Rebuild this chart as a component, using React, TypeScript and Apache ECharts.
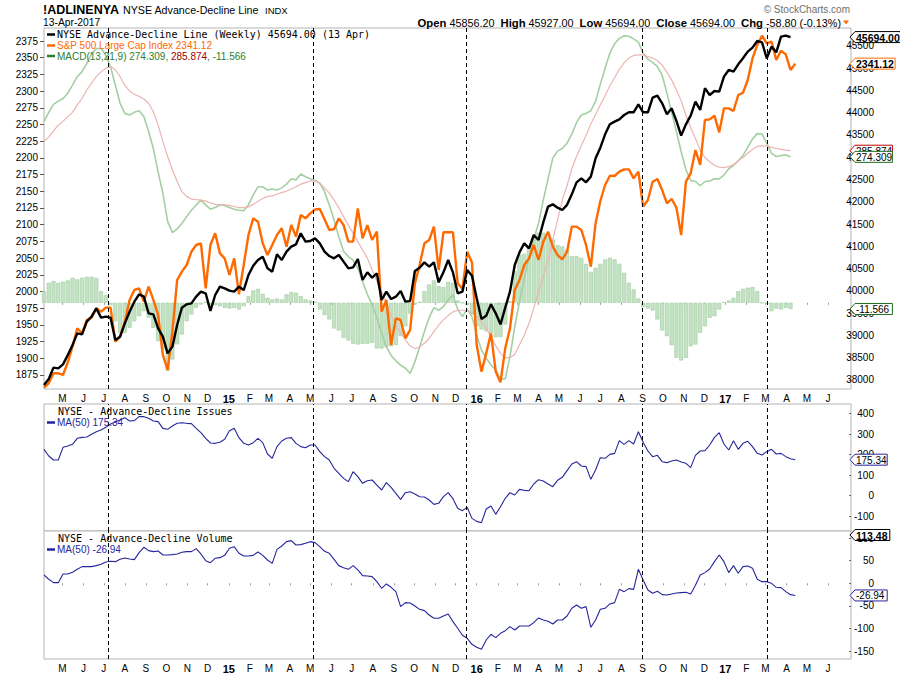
import React, { useEffect, useRef } from 'react';
import * as echarts from 'echarts';

// ---------- data (weekly, first week 2014-04-04) ----------
const firstWeek = '2014-04-04';

const adLine = [
  37888, 38022, 38277, 38262, 38351, 38561, 38785, 39047, 39025, 39309,
  39421, 39608, 39399, 39421, 39399, 38897, 38972, 39271, 39533, 39758,
  39922, 39870, 39496, 39473, 39159, 38972, 38598, 38748, 39234, 39623,
  39698, 39720, 39870, 39982, 39945, 39548, 39907, 40094, 40057, 40004,
  39982, 40094, 40019, 40356, 40565, 40693, 40767, 40506, 40431, 40820,
  40693, 40880, 40992, 41044, 41291, 41104, 41119, 41179, 41066, 40880,
  40782, 40730, 40805, 40655, 40506, 40528, 40715, 40244, 40416, 40296,
  40393, 39795, 39982, 39817, 39870, 39997, 39758, 39772, 40446, 40520,
  40640, 40543, 40640, 40191, 40416, 40693, 40416, 39945, 39982, 40468,
  40341, 39832, 39369, 39443, 39698, 39496, 39249, 39623, 39982, 40580,
  40865, 41067, 40954, 41254, 41141, 41538, 41889, 41942, 41867, 41815,
  41930, 42166, 42435, 42525, 42435, 42563, 42974, 43213, 43513, 43737,
  43797, 43849, 43946, 44006, 44006, 44186, 44006, 44006, 44335, 44380,
  44208, 43961, 44096, 43812, 43483, 43737, 43931, 44246, 44059, 44545,
  44395, 44485, 44470, 44807, 44956, 44919, 45083, 45218, 45368, 45457,
  45607, 45577, 45218, 45480, 45353, 45704, 45727, 45694.0,
];

const spx = [
  1856, 1862.5, 1877.5, 1877.5, 1875, 1894, 1917.4, 1944.9, 1937.4, 1957.3,
  1960.8, 1974.8, 1969.8, 1975.8, 1975.8, 1924.9, 1932.4, 1954.8, 1987.3, 2002.3,
  2004.8, 1984.8, 2007.2, 1987.3, 1964.8, 1904.9, 1882.5, 1939.9, 2017.2, 2029.7,
  2039.7, 2059.6, 2069.6, 2072.1, 2004.8, 2069.6, 2087.1, 2057.1, 2049.6, 2024.7,
  2049.6, 1995.8, 2039.7, 2084.6, 2109.5, 2104.5, 2072.1, 2054.6, 2069.6, 2084.6,
  2094.6, 2067.1, 2099.6, 2082.1, 2114.5, 2109.5, 2117.0, 2123.0, 2123.5, 2108.0,
  2092.1, 2093.6, 2109.5, 2099.5, 2074.6, 2074.6, 2124.5, 2079.6, 2099.5, 2077.1,
  2089.6, 1969.8, 1987.3, 1919.9, 1959.8, 1957.3, 1929.9, 1942.4, 2012.2, 2039.7,
  2072.1, 2077.1, 2097.1, 2032.2, 2088.6, 2088.6, 2088.6, 2012.2, 2003.7, 2059.6,
  2043.6, 1919.9, 1880.0, 1907.4, 1937.4, 1880.0, 1864.0, 1914.9, 1944.9, 2002.2,
  2017.2, 2039.7, 2049.6, 2069.6, 2047.2, 2074.6, 2089.6, 2067.1, 2054.6, 2048.0,
  2059.6, 2097.1, 2097.1, 2092.1, 2069.6, 2037.2, 2102.0, 2135.5, 2159.4, 2173.4,
  2172.9, 2179.4, 2182.9, 2182.9, 2169.4, 2179.4, 2127.0, 2137.0, 2164.4, 2168.4,
  2151.9, 2132.0, 2138.5, 2125.5, 2084.6, 2164.4, 2176.9, 2211.8, 2189.4, 2256.7,
  2257.7, 2263.2, 2238.3, 2274.2, 2274.2, 2270.2, 2294.2, 2297.6, 2316.6, 2349.0,
  2369.0, 2383.0, 2371.5, 2374.0, 2346.5, 2360.5, 2355.0, 2331.6, 2341.12,
];

const macdLine = [
  340.5, 358, 373, 379, 384, 394, 409, 425, 434.5, 450,
  468, 478, 478, 465, 444, 409, 375, 356, 353, 358,
  361, 350, 322, 290, 246, 206, 153, 132, 139, 149,
  162, 174, 184, 193, 184, 176, 179, 184, 183, 179,
  176, 174, 173, 184, 203, 218, 218, 212, 214, 212,
  216, 223, 233, 231, 242, 237, 233, 230, 225, 209,
  184, 156, 124, 97, 87, 80, 65, 40, 16, -3,
  -28, -57, -83, -99, -109, -117, -123, -133, -111, -83,
  -54, -28, -9, -14, -7, 5, 15, -12, -26, -12,
  -26, -61, -89, -104, -117, -126, -143, -143, -101, -45,
  2, 46, 85, 120, 149, 193, 233, 272, 285, 290,
  300, 317, 339, 353, 356, 361, 379, 411, 441, 469,
  487, 497, 502, 501, 496, 490, 469, 458, 452, 444,
  428, 394, 358, 322, 284, 250, 230, 228, 220, 228,
  229, 233, 233, 240, 252, 258, 267, 277, 292, 308,
  318, 317, 300, 281, 275, 277, 278, 274.309,
];

const macdSignal = [
  303, 312, 323, 334, 341, 350, 358, 372, 384, 400,
  413, 425, 434, 441, 444, 438, 425, 409, 398, 392,
  388, 383, 375, 359, 334, 303, 275, 250, 228, 209,
  200, 195, 194, 193, 191, 188, 185, 184, 184, 183,
  181, 179, 179, 180, 185, 191, 196, 200, 201, 204,
  207, 210, 214, 218, 223, 226, 229, 229, 225, 216,
  206, 193, 179, 162, 146, 131, 115, 99, 84, 62,
  41, 21, -1, -23, -42, -56, -70, -81, -86, -83,
  -76, -67, -54, -42, -32, -24, -17, -14, -14, -15,
  -18, -26, -36, -48, -64, -81, -95, -103, -103, -97,
  -79, -61, -39, -10, 21, 49, 80, 118, 156, 193,
  220, 252, 275, 295, 315, 336, 354, 372, 389, 408,
  423, 439, 451, 460, 465, 466, 466, 463, 460, 455,
  447, 433, 419, 400, 380, 353, 329, 309, 287, 273,
  265, 258, 255, 254, 256, 260, 267, 273, 281, 288,
  294, 295, 295, 292, 290, 288.5, 287, 285.874,
];

const macdHist = [
  22, 37.6, 40.7, 37.6, 39.5, 42, 47, 43.9, 47, 48.9,
  48.9, 47, 22, 14.4, -4.4, -34.5, -56.4, -56.4, -47, -34.5,
  -25, -15.7, -28.2, -47, -72, -87.7, -128, -106.5, -78, -59.5,
  -34.5, -22, -9.4, -3.1, 1.9, -6.3, -4.4, -6.3, -9.4, -10.7,
  -9.4, -12.5, -6.3, 12.5, 23.2, 26.3, 16.9, 9.4, 6.3, 8.1,
  6.3, 15.7, 20, 18.8, 12.5, 6.3, 4.4, 1.9, -12.5, -23.2,
  -31.3, -48.2, -52, -65.8, -70.8, -77.1, -78.3, -77.1, -77.1, -75.2,
  -85.8, -85.8, -83.3, -81.5, -79.6, -62.7, -43.9, -20.7, -3.1, 1.9,
  21.9, 34.5, 42, 31.3, 29.5, 39.5, 37.6, 4.4, 0, -4.4,
  -21.9, -43.9, -50.1, -53.3, -56.4, -64.5, -64.5, -40.7, 3.1, 59.5,
  90.9, 92.1, 106.5, 122.2, 131.6, 131.6, 123.4, 119, 108.4, 106,
  100, 87.7, 87.7, 84.6, 73.3, 58.3, 65.8, 73.3, 81.5, 84.6,
  81.5, 73.3, 56.4, 37.6, 25.1, 8.1, -8.1, -10.7, -14.4, -31.3,
  -52, -62.7, -79.6, -103.4, -108.4, -103.4, -81.5, -78.3, -56.4, -43.9,
  -28.2, -25.1, -12.5, 1.3, 4.4, 9.4, 21.9, 26.3, 28.2, 29.5,
  21.9, 0, -1.9, -15.7, -10.7, -12.5, -9.4, -11.566,
];

const adIssuesMA = [
  225.7, 193.2, 173.8, 173.8, 235.4, 241.9, 250, 279.3, 284.1, 285.7,
  298.7, 311.7, 319.8, 332.8, 349, 358.8, 368.5, 379.9, 363.7, 365.3,
  384.8, 384.8, 376.6, 363.7, 360.4, 327.9, 323.1, 339.3, 352.3, 355.5,
  352.3, 350.7, 327.9, 306.8, 279.3, 256.5, 254.9, 259.8, 274.4, 316.6,
  327.9, 282.5, 254.9, 246.8, 258.2, 279.3, 258.2, 203, 181.9, 238.7,
  266.3, 279.3, 282.5, 254.9, 238.7, 233.8, 246.8, 246.8, 214.3, 190,
  173.8, 133.2, 108.8, 84.5, 68.3, 117, 92.6, 60.2, 73.1, 76.4,
  52, 27.7, 63.4, 40.7, 11.5, -17.8, 14.7, 19.6, 8.2, -4.8,
  -6.4, -21, -42.1, -37.2, -4.8, 14.7, -14.5, -61.6, -72.9, -56.7,
  -110.3, -124.9, -131.4, -64.8, -50.2, -90.8, -53.5, -12.9, 14.7, 3.4,
  30.9, 26.1, 24.4, 56.9, 78, 71.5, 56.9, 43.9, 74.8, 89.4,
  121.8, 154.3, 165.6, 144.5, 141.3, 79.6, 125.1, 185.1, 181.9, 201.3,
  206.2, 267.9, 250, 267.9, 251.7, 311.7, 259.8, 217.6, 190, 196.5,
  165.6, 160.8, 168.9, 173.8, 164, 157.5, 136.4, 196.5, 217.6, 219.2,
  246.8, 284.1, 306.8, 251.7, 222.5, 267.9, 225.7, 254.9, 264.6, 238.7,
  206.2, 198.1, 214.3, 225.7, 203, 206.2, 190, 180, 175.34,
];

const adVolumeMA = [
  18.4, 8.8, 1.4, 1.4, 20.6, 20.6, 24.3, 30.9, 36.9, 36.9,
  36.9, 39.1, 42, 47.2, 48.7, 47.9, 53.1, 56.1, 53.8, 52.4,
  67.9, 79.7, 72.3, 70.1, 71.5, 62.7, 62.7, 63.4, 64.9, 68.6,
  70.1, 70.1, 76.7, 64.9, 50.1, 45.7, 55.3, 56.8, 61.9, 77.5,
  81.1, 66.4, 60.5, 60.5, 61.9, 69.3, 61.9, 51.6, 44.2, 75.2,
  82.6, 92.2, 94.4, 84.8, 85.6, 88.5, 92.2, 90, 81.1, 70.8,
  66.4, 53.1, 39.1, 34.6, 30.9, 39.1, 29.5, 16.9, 16.2, 14.7,
  3.6, -11.1, -1.5, -8.9, -18.5, -51.7, -42.9, -43.6, -50.3, -57.7,
  -60.6, -70.2, -77.6, -77.6, -72.4, -68, -85, -99.7, -115.2, -121.9,
  -135.2, -141.8, -146.2, -125.6, -113, -120.4, -110.8, -104.9, -96, -103.4,
  -94.6, -94.6, -94.6, -87.2, -76.8, -81.3, -84.2, -90.1, -81.3, -81.3,
  -72.4, -55.4, -48, -55.4, -51.7, -97.5, -81.3, -57.7, -55.4, -45.8,
  -42.9, -13.4, -18.5, -11.9, -13.4, 31, 7.3, -14.8, -22.2, -17.8,
  -25.2, -25.9, -23.7, -21.5, -20.7, -20, -23.7, -4.5, 18.4, 23.6,
  31.7, 47.9, 62.7, 47.9, 23.6, 39.1, 22.1, 36.9, 38.3, 33.2,
  8.8, 3.6, 3.6, -0.1, -8.9, -9.7, -18.5, -25.2, -26.94,
];
const adVolumeLast = 113.48;

const monthLabels = [
  'M', 'J', 'J', 'A', 'S', 'O', 'N', 'D',
  '15', 'F', 'M', 'A', 'M', 'J', 'J', 'A', 'S', 'O', 'N', 'D',
  '16', 'F', 'M', 'A', 'M', 'J', 'J', 'A', 'S', 'O', 'N', 'D',
  '17', 'F', 'M', 'A', 'M', 'J',
];
const markerDates = ['2014-07-07', '2015-05-05', '2015-12-16', '2016-09-01', '2017-03-04'];
const spxTicks = [1875, 1900, 1925, 1950, 1975, 2000, 2025, 2050, 2075, 2100, 2125, 2150, 2175, 2200, 2225, 2250, 2275, 2300, 2325, 2350, 2375];
const adTicks = [38000, 38500, 39000, 39500, 40000, 40500, 41000, 41500, 42000, 42500, 43000, 43500, 44000, 44500, 45000, 45500];
const issuesTicks = [-100, 0, 100, 200, 300, 400];
const volumeTicks = [-150, -100, -50, 0, 50, 100];

// ---------- helpers ----------
const DAY = 86400000;
const t0 = Date.parse(firstWeek + 'T00:00:00Z');
const tEnd = t0 + 1188 * DAY;
const weekTime = (i: number) => t0 + i * 7 * DAY;
const pair = (arr: number[]) => arr.map((v, i) => [weekTime(i), v]);
const monthStarts = monthLabels.map((_, i) => Date.UTC(2014, 4 + i, 1));
const last = (a: number[]) => a[a.length - 1];
const plain = (v: number) => String(v);

const SANS = '"Liberation Sans", Arial, sans-serif';
const NARROW = '"Liberation Sans Narrow", "Liberation Sans", Arial, sans-serif';
const MONO = '"DejaVu Sans Mono", monospace';
const BLUE = '#26269c';

export default function App() {
  const ref = useRef<HTMLDivElement>(null);

  useEffect(() => {
    if (!ref.current) return;
    const chart = echarts.init(ref.current, undefined, { renderer: 'svg' });

    const monthFmt = (value: number) => {
      const idx = monthStarts.indexOf(value);
      if (idx < 0) return '';
      const lab = monthLabels[idx];
      return /\d/.test(lab) ? '{b|' + lab + '}' : lab;
    };
    const xLabel = {
      show: true,
      customValues: monthStarts,
      formatter: monthFmt,
      margin: 4,
      fontSize: 10,
      fontFamily: SANS,
      color: '#000',
      rich: { b: { fontWeight: 'bold', fontSize: 11, fontFamily: SANS, color: '#000' } },
    };
    const xBase = {
      type: 'value',
      min: t0,
      max: tEnd,
      splitLine: { show: false },
      axisLine: { show: false },
      axisTick: { show: false },
      axisLabel: { show: false },
    };
    const rightLabel = (vals: number[]) => ({
      customValues: vals,
      formatter: plain,
      margin: 23,
      align: 'right',
      fontSize: 10,
      fontFamily: NARROW,
      color: '#000',
    });
    const rightTick = (vals: number[]) => ({ show: true, inside: true, length: 2, customValues: vals, lineStyle: { color: '#666' } });

    const gridBase = { show: true, borderColor: '#b4b4b4', borderWidth: 1, backgroundColor: '#fff', outerBoundsMode: 'none', containLabel: false };

    const markLine = {
      silent: true,
      symbol: ['none', 'none'],
      label: { show: false },
      lineStyle: { color: '#000', type: [4, 3], width: 1 },
      emphasis: { disabled: true },
      data: markerDates.map((d) => ({ xAxis: Date.parse(d + 'T00:00:00Z') })),
    };

    const option: any = {
      animation: false,
      backgroundColor: '#fff',
      grid: [
        { ...gridBase, left: 44, top: 28, width: 807, height: 361 },
        { ...gridBase, left: 44, top: 404, width: 807, height: 127 },
        { ...gridBase, left: 44, top: 531, width: 807, height: 128 },
      ],
      xAxis: [
        { ...xBase, gridIndex: 0, axisLabel: xLabel, axisTick: { show: true, customValues: monthStarts, length: 2, lineStyle: { color: '#999' } } },
        { ...xBase, gridIndex: 1 },
        { ...xBase, gridIndex: 2, axisLabel: xLabel, axisTick: { show: true, customValues: monthStarts, length: 2, lineStyle: { color: '#999' } } },
      ],
      yAxis: [
        {
          type: 'value', gridIndex: 0, position: 'left', min: 1854, max: 2394.5,
          axisLine: { show: false }, splitLine: { show: false },
          axisTick: { show: true, length: 4, customValues: spxTicks, lineStyle: { color: '#555' } },
          axisLabel: { customValues: spxTicks, formatter: plain, margin: 6, fontSize: 10, fontFamily: SANS, color: '#000' },
        },
        {
          type: 'value', gridIndex: 0, position: 'right', min: 37798, max: 45898,
          axisLine: { show: false }, splitLine: { show: false },
          axisTick: rightTick(adTicks), axisLabel: rightLabel(adTicks),
        },
        { type: 'value', gridIndex: 0, show: false, min: -162, max: 516.5, splitLine: { show: false } },
        {
          type: 'value', gridIndex: 1, position: 'right', min: -171.9, max: 446.4,
          axisLine: { show: false }, splitLine: { show: false },
          axisTick: rightTick(issuesTicks), axisLabel: rightLabel(issuesTicks),
        },
        {
          type: 'value', gridIndex: 2, position: 'right', min: -167.7, max: 115.8,
          axisLine: { show: false }, splitLine: { show: false },
          axisTick: rightTick(volumeTicks), axisLabel: rightLabel(volumeTicks),
        },
      ],
      series: [
        {
          type: 'bar', xAxisIndex: 0, yAxisIndex: 2, data: pair(macdHist), barWidth: 4, silent: true,
          itemStyle: { color: 'rgba(186,222,186,0.85)', borderColor: '#9fcb9f', borderWidth: 0.6 },
        },
        {
          type: 'line', xAxisIndex: 0, yAxisIndex: 2, data: pair(macdLine), symbol: 'none', silent: true,
          lineStyle: { color: '#a3cfa3', width: 1.6 },
        },
        {
          type: 'line', xAxisIndex: 0, yAxisIndex: 2, data: pair(macdSignal), symbol: 'none', silent: true,
          lineStyle: { color: '#eeb3b3', width: 1.2 },
        },
        {
          type: 'line', xAxisIndex: 0, yAxisIndex: 0, data: pair(spx), symbol: 'none', silent: true,
          lineStyle: { color: '#ff6a00', width: 2.4 },
        },
        {
          type: 'line', xAxisIndex: 0, yAxisIndex: 1, data: pair(adLine), symbol: 'none', silent: true,
          lineStyle: { color: '#000', width: 2.4 }, markLine,
        },
        {
          type: 'line', xAxisIndex: 1, yAxisIndex: 3, data: pair(adIssuesMA), symbol: 'none', silent: true,
          lineStyle: { color: BLUE, width: 1.1 }, markLine,
        },
        {
          type: 'line', xAxisIndex: 2, yAxisIndex: 4, data: pair(adVolumeMA), symbol: 'none', silent: true,
          lineStyle: { color: BLUE, width: 1.1 }, markLine,
        },
      ],
    };
    chart.setOption(option);

    // --- annotations: header, legends and value tags ---
    const txt = (x: number, y: number, text: string, o: any = {}) => ({
      type: 'text', x, y, z: 100,
      style: { text, fontSize: 10, fontFamily: SANS, fill: '#000', verticalAlign: 'middle', ...o },
    });
    const dash = (y: number, color: string) => ({
      type: 'line', z: 100, shape: { x1: 47, y1: y, x2: 55, y2: y }, style: { stroke: color, lineWidth: 2.5 },
    });

    const g: any[] = [
      txt(43, 10, '!ADLINENYA', { fontSize: 12.5, fontWeight: 'bold' }),
      txt(123, 10, 'NYSE Advance-Decline Line', { fontSize: 10.7 }),
      txt(265, 10.5, 'INDX', { fontSize: 9.5 }),
      txt(43, 22.5, '13-Apr-2017', { fontSize: 10.3 }),
      txt(850, 9.5, '\u00a9 StockCharts.com', { fontSize: 10, fill: '#6e6e6e', align: 'right' }),
      txt(841, 22.5,
        '{b|Open} 45856.20  {b|High} 45927.00  {b|Low} 45694.00  {b|Close} 45694.00  {b|Chg} -58.80 (-0.13%)',
        { align: 'right', fontSize: 10.8, rich: { b: { fontWeight: 'bold', fontSize: 11.3, fontFamily: SANS, fill: '#000' } } }),
      { type: 'polygon', z: 100, shape: { points: [[843, 20.5], [849, 20.5], [846, 24.5]] }, style: { fill: '#ff6a00' } },

      dash(34.5, '#000'),
      txt(57, 34.5, 'NYSE Advance-Decline Line (Weekly) ' + last(adLine).toFixed(2) + ' (13 Apr)', { fontFamily: MONO, fontSize: 10 }),
      dash(45.5, '#ff6a00'),
      txt(57, 45.5, 'S&P 500 Large Cap Index ' + last(spx).toFixed(2), { fill: '#ff6a00' }),
      dash(56, '#2e7d2e'),
      txt(57, 56,
        '{g|MACD(13,21,9) ' + last(macdLine).toFixed(3) + ', }{r|' + last(macdSignal).toFixed(3) + '}{g|, ' + last(macdHist).toFixed(3) + '}',
        { rich: { g: { fill: '#2e7d2e', fontSize: 10, fontFamily: SANS }, r: { fill: '#a00000', fontSize: 10, fontFamily: SANS } } }),

      txt(58, 411.5, 'NYSE - Advance-Decline Issues', { fontFamily: MONO, fontSize: 10 }),
      dash(422.5, BLUE),
      txt(57, 422.5, 'MA(50) ' + last(adIssuesMA).toFixed(2), { fill: BLUE }),
      txt(58, 538.5, 'NYSE - Advance-Decline Volume', { fontFamily: MONO, fontSize: 10 }),
      dash(549.5, BLUE),
      txt(57, 549.5, 'MA(50) ' + last(adVolumeMA).toFixed(2), { fill: BLUE }),
    ];

    const tags = [
      { axis: 2, value: last(macdSignal), text: last(macdSignal).toFixed(3), color: '#c00000', bold: false, minY: 0 },
      { axis: 2, value: last(macdLine), text: last(macdLine).toFixed(3), color: '#1d6b1d', bold: false, minY: 0 },
      { axis: 2, value: last(macdHist), text: last(macdHist).toFixed(3), color: '#1d6b1d', bold: false, minY: 0 },
      { axis: 0, value: last(spx), text: last(spx).toFixed(2), color: '#ff6a00', bold: true, minY: 0 },
      { axis: 1, value: last(adLine), text: last(adLine).toFixed(2), color: '#000', bold: true, minY: 0 },
      { axis: 3, value: last(adIssuesMA), text: last(adIssuesMA).toFixed(2), color: BLUE, bold: false, minY: 0 },
      { axis: 4, value: adVolumeLast, text: adVolumeLast.toFixed(2), color: '#000', bold: true, minY: 535 },
      { axis: 4, value: last(adVolumeMA), text: last(adVolumeMA).toFixed(2), color: BLUE, bold: false, minY: 0 },
    ];
    tags.forEach((t) => {
      let y = chart.convertToPixel({ yAxisIndex: t.axis } as any, t.value) as number;
      y = Math.max(y, t.minY);
      const x0 = 850;
      const w = t.bold ? 8 + 5.3 * t.text.length : 6 + 5.2 * t.text.length;
      const h = 5.5;
      g.push({
        type: 'polygon', z: 100,
        shape: { points: [[x0, y], [x0 + 5, y - h], [x0 + w, y - h], [x0 + w, y + h], [x0 + 5, y + h]] },
        style: { fill: '#fff', stroke: t.color, lineWidth: 1 },
      });
      g.push(txt(x0 + 6, y + 0.5, t.text, {
        fontSize: t.bold ? 10.5 : 10, fontWeight: t.bold ? 'bold' : 'normal', fill: '#000', z: 101,
      }));
    });

    chart.setOption({ graphic: g });

    return () => chart.dispose();
  }, []);

  return (
    <div
      ref={ref}
      style={{ position: 'fixed', left: 0, top: 0, width: 900, height: 673, background: '#fff' }}
    />
  );
}
